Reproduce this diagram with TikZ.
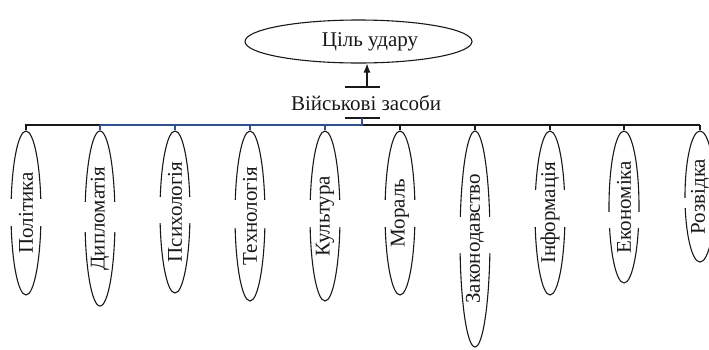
\documentclass[tikz,border=0pt]{standalone}
\usepackage{fontspec}
\setmainfont{Liberation Serif}
\usetikzlibrary{shapes.geometric,arrows.meta}
\definecolor{linkblue}{RGB}{47,82,143}
\definecolor{ink}{RGB}{25,25,25}
\begin{document}
\begin{tikzpicture}[x=1pt,y=-1pt,
  oval/.style={ellipse, draw=ink, line width=1.1pt, inner sep=0pt},
  lbl/.style={font=\fontsize{21}{21}\selectfont, inner sep=0pt, text=ink},
  vtext/.style={lbl, rotate=90},
  wire/.style={draw=ink, line width=1.1pt},
  bluewire/.style={draw=linkblue, line width=1.1pt},
]
\useasboundingbox (0,0) rectangle (709,349);
\clip (0,0) rectangle (709,349);
% top goal
\node[oval, minimum width=227, minimum height=43] (goal) at (358.5,41.5) {};
\node[lbl] (goaltext) at (370,42) {Ціль удару};
% military means
\node[lbl] (means) at (366,103) {Військові засоби};
\coordinate (topbarL) at (345,87);
\coordinate (topbarR) at (380,87);
\coordinate (botbarL) at (345,118);
\coordinate (botbarR) at (380,118);
\draw[wire] (topbarL) -- (topbarR);
\draw[wire] (botbarL) -- (botbarR);
\coordinate (arrfoot) at (367,87);
\draw[wire, -{Latex[length=9pt,width=7pt]}] (arrfoot) -- (arrfoot |- goal.south);
% trunk and main line
\coordinate (trunktop) at (362,118);
\coordinate (trunkbot) at (362,125);
\coordinate (mainL) at (25,125);
\coordinate (mainR) at (700,125);
\coordinate (blueL) at (100,125);
\draw[wire] (mainL) -- (mainR);
\draw[bluewire] (blueL) -- (trunkbot) -- (trunktop);
% children
\foreach \nm/\x/\cy/\h/\ga/\gb/\col/\txt in {
  pol/26/213/164/199/226/ink/Політика,
  dyp/100/218.5/175/202/232/linkblue/Дипломатія,
  psy/175/212/162/197/223/linkblue/Психологія,
  tec/250/216/170/200/228/linkblue/Технологія,
  cul/325/216/170/200/227/linkblue/Культура,
  mor/400/213/164/200/227/ink/Мораль,
  zak/475/239/216/217/253/ink/Законодавство,
  inf/550/213/164/190/227/ink/Інформація,
  eko/624/207/152/212/228/ink/Економіка,
  roz/700/196.5/131/198/208/ink/Розвідка}{
  \node[oval, minimum width=30, minimum height=\h] (\nm) at (\x,\cy) {};
  \fill[white] (\x-20,\ga) rectangle (\x+20,\gb);
  \node[vtext] (\nm-t) at (\nm) {\txt};
  \draw[draw=\col, line width=1.1pt] (\nm.north) -- (\nm.north |- mainL);
}
\end{tikzpicture}
\end{document}
